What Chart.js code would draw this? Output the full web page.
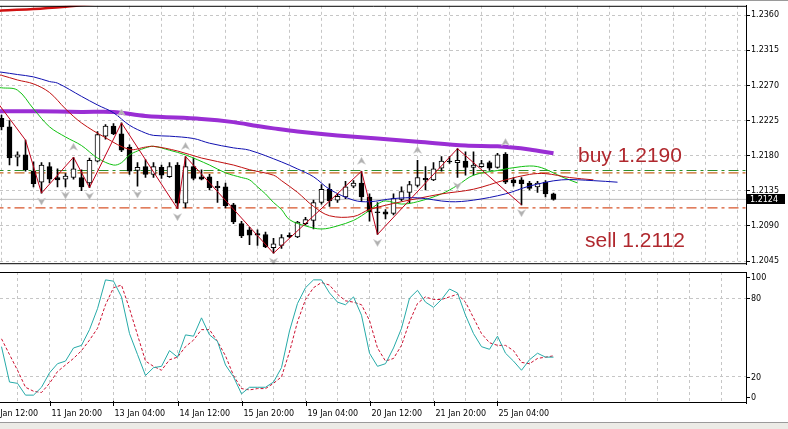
<!DOCTYPE html>
<html><head><meta charset="utf-8">
<script src="https://cdn.jsdelivr.net/npm/chart.js@4.4.0/dist/chart.umd.min.js"></script>
<style>
html,body{margin:0;padding:0;background:#fff;width:788px;height:429px;overflow:hidden;position:relative;}
#a{position:absolute;left:0;top:0;}
#b{position:absolute;left:0;top:269px;}
#topline{position:absolute;left:0;top:0;width:788px;height:1px;background:#9a9a9a;}
#bar{position:absolute;left:0;top:422px;width:788px;height:7px;background:#ecebe6;border-top:1px solid #9a9a9a;}
</style></head><body>
<canvas id="a" width="788" height="270" style="width:788px;height:270px"></canvas>
<canvas id="b" width="788" height="153" style="width:788px;height:153px"></canvas>
<div id="topline"></div><div id="bar"></div>
<script>
// ---- price candles (bar index 0..69, H4 bars) ----
const opens = [1.2228,1.2217,1.2178,1.2181,1.2160,1.2146,1.2166,1.2152,1.2150,1.2152,
1.2152,1.2145,1.2173,1.2205,1.2218,1.2208,1.2191,1.2161,1.2166,1.2156,
1.2165,1.2153,1.2168,1.2119,1.2166,1.2153,1.2153,1.2141,1.2140,1.2117,
1.2093,1.2085,1.2080,1.2079,1.2062,1.2065,1.2078,1.2076,1.2093,1.2097,
1.2120,1.2137,1.2123,1.2127,1.2141,1.2145,1.2127,1.2108,1.2108,1.2106,
1.2124,1.2133,1.2142,1.2151,1.2149,1.2164,1.2173,1.2171,1.2173,1.2165,
1.2166,1.2171,1.2165,1.2182,1.2149,1.2149,1.2145,1.2140,1.2146,1.2131];
const highs = [1.2232,1.2225,1.2185,1.2200,1.2172,1.2171,1.2171,1.2163,1.2157,1.2178,
1.2162,1.2177,1.2211,1.2220,1.2221,1.2222,1.2194,1.2171,1.2175,1.2171,
1.2168,1.2171,1.2171,1.2179,1.2177,1.2162,1.2156,1.2147,1.2145,1.2119,
1.2096,1.2088,1.2085,1.2082,1.2074,1.2079,1.2081,1.2096,1.2101,1.2123,
1.2143,1.2144,1.2131,1.2147,1.2148,1.2160,1.2131,1.2120,1.2111,1.2131,
1.2140,1.2147,1.2174,1.2166,1.2171,1.2179,1.2179,1.2189,1.2185,1.2185,
1.2174,1.2173,1.2183,1.2184,1.2152,1.2152,1.2147,1.2147,1.2148,1.2132];
const lows = [1.2213,1.2168,1.2167,1.2160,1.2140,1.2132,1.2145,1.2140,1.2140,1.2150,
1.2135,1.2139,1.2172,1.2201,1.2207,1.2185,1.2156,1.2141,1.2152,1.2152,
1.2151,1.2152,1.2112,1.2113,1.2149,1.2149,1.2136,1.2120,1.2113,1.2093,
1.2075,1.2066,1.2065,1.2062,1.2055,1.2061,1.2075,1.2075,1.2091,1.2086,
1.2118,1.2115,1.2120,1.2125,1.2139,1.2121,1.2096,1.2079,1.2099,1.2104,
1.2122,1.2119,1.2140,1.2136,1.2148,1.2160,1.2170,1.2152,1.2155,1.2155,
1.2165,1.2161,1.2164,1.2144,1.2141,1.2117,1.2136,1.2133,1.2127,1.2123];
const closes = [1.2217,1.2177,1.2181,1.2162,1.2144,1.2168,1.2150,1.2149,1.2154,1.2163,
1.2140,1.2174,1.2207,1.2218,1.2208,1.2187,1.2160,1.2165,1.2156,1.2166,
1.2155,1.2166,1.2119,1.2166,1.2151,1.2150,1.2139,1.2139,1.2116,1.2095,
1.2077,1.2078,1.2078,1.2063,1.2067,1.2075,1.2076,1.2095,1.2098,1.2120,
1.2137,1.2122,1.2128,1.2140,1.2145,1.2127,1.2108,1.2107,1.2105,1.2125,
1.2134,1.2143,1.2152,1.2149,1.2163,1.2173,1.2172,1.2174,1.2165,1.2168,
1.2170,1.2164,1.2181,1.2146,1.2145,1.2144,1.2138,1.2145,1.2131,1.2124];

// ---- indicator lines (bar index, value) ----
const jawIdx  = [-1,0,2,4,6,7,10,12,14,16,18,19,21,24,26,29,31,35,37,39,41,44,46,49,52,56,59,63,66,70,74,77];
const jawVal  = [1.2288,1.2287,1.2284,1.2281,1.2275,1.2273,1.2256,1.2245,1.2235,1.2219,1.2209,1.2206,1.2205,1.2202,1.2196,1.2190,1.2187,1.2172,1.2163,1.2153,1.2137,1.2123,1.2121,1.2125,1.2126,1.2121,1.2123,1.2131,1.2141,1.2149,1.2148,1.2146];
const teethIdx = [-1,0,2,4,6,8,10,13,16,18,19,22,25,29,31,34,35,37,39,41,44,46,50,52,55,59,63,66,68,71,74];
const teethVal = [1.2285,1.2283,1.2277,1.2272,1.2261,1.2240,1.2222,1.2203,1.2188,1.2191,1.2192,1.2186,1.2177,1.2168,1.2162,1.2155,1.2148,1.2133,1.2115,1.2103,1.2102,1.2111,1.2121,1.2125,1.2131,1.2137,1.2149,1.2156,1.2157,1.2152,1.2149];
const lipsIdx = [-1,0,2,4,6,8,10,12,14,15,16,17,18,19,21,23,26,28,30,31,32,33,34,35,36,38,40,42,44,45,46,47,48,50,52,55,57,59,62,65,67,69,70,72];
const lipsVal = [1.2268,1.2267,1.2264,1.2240,1.2217,1.2204,1.2193,1.2177,1.2168,1.2171,1.2181,1.2186,1.2190,1.2192,1.2187,1.2181,1.2168,1.2158,1.2152,1.2149,1.2140,1.2131,1.2120,1.2111,1.2098,1.2090,1.2086,1.2090,1.2097,1.2103,1.2110,1.2118,1.2122,1.2118,1.2121,1.2131,1.2142,1.2155,1.2161,1.2166,1.2166,1.2158,1.2153,1.2145];
const slowIdx = [-1,0,4,10,14,18,25,29,32,34,37,42,52,58,62,66,69];
const slowVal = [1.2237,1.2237,1.2237,1.2236,1.2236,1.2231,1.2227,1.2223,1.2218,1.2215,1.2211,1.2206,1.2198,1.2193,1.2192,1.2188,1.2183];
const slow2Idx = [-1,0,4,8,10,12];
const slow2Val = [1.2365,1.2366,1.2368,1.2371,1.2373,1.2375];
const zigzagIdx = [-1,3,5,9,11,15,22,23,34,45,47,57,65];
const zigzagVal = [1.2255,1.2200,1.2132,1.2178,1.2139,1.2222,1.2112,1.2179,1.2055,1.2160,1.2079,1.2189,1.2117];
const fractalUp = [9,15,23,45,52,63];
const fractalDown = [5,8,11,17,22,34,47,57,65];

// ---- horizontal levels ----
const buyLevelA = 1.2161;   // green dash-dot
const buyLevelB = 1.2158;   // orange dash-dot
const sellLevel = 1.2113;   // red dash-dot
const bidLevel = 1.2124;
const buyText = 'buy 1.2190';
const sellText = 'sell 1.2112';

// ---- stochastic ----
const stochMain = [43,16,15,6,6,12,23,30,32,42,44,56,72,94,93,81,53,37,21,27,28,40,35,52,51,65,52,47,29,20,7,12,12,12,16,27,55,76,88,94,94,84,77,75,81,67,38,28,30,42,57,80,86,77,73,79,87,84,67,53,43,41,51,38,32,25,33,38,35,35];
const stochSignal = [49,37,25,12,9,8,15,24,29,34,40,48,57,75,88,90,72,52,32,28,25,33,35,43,48,56,56,47,36,21,11,10,11,11,15,20,39,62,79,88,92,90,83,78,77,75,63,42,32,34,44,62,76,81,79,79,81,83,77,65,53,46,44,44,40,31,30,34,35,36];
const stochLevels = [100,80,20,0];
const stochGrid = [20,80];

// ---- axes ----
const priceTicks = [1.2045,1.2090,1.2135,1.2180,1.2225,1.2270,1.2315,1.2360];
const gridIdx = [2,6,10,14,18,22,26,30,34,38,42,46,50,54,58,62,66,70,74,78,82,86,90];
const timeLabelIdx = [-2,6,14,22,30,38,46,54,62];
const timeLabels = ['10 Jan 12:00','11 Jan 20:00','13 Jan 04:00','14 Jan 12:00','15 Jan 20:00','19 Jan 04:00','20 Jan 12:00','21 Jan 20:00','25 Jan 04:00'];

const pts = (idx, val) => idx.map((k, i) => ({x: k, y: val[i]}));
const FONT = "'DejaVu Sans', sans-serif";
const GRIDC = '#c6c6c6';

const xAxis = () => ({
  type: 'linear', min: -0.1875, max: 93.0625, offset: false, display: true,
  afterBuildTicks: s => { s.ticks = gridIdx.map(v => ({value: v})); },
  afterFit: s => { s.height = 0; },
  ticks: {display: false},
  grid: {display: true, color: GRIDC, lineWidth: 1, drawTicks: false, borderDash: [3,3]},
  border: {display: false, dash: [3,3]}
});

const framePlugin = {
  id: 'frame',
  afterDraw(chart) {
    const {ctx, chartArea: a} = chart;
    ctx.save();
    ctx.strokeStyle = '#000'; ctx.lineWidth = 1; ctx.setLineDash([]);
    ctx.beginPath();
    ctx.moveTo(0, a.top + 0.5); ctx.lineTo(a.right + 0.5, a.top + 0.5);
    ctx.moveTo(0, a.bottom - 0.5); ctx.lineTo(a.right + 0.5, a.bottom - 0.5);
    ctx.moveTo(a.right + 0.5, a.top); ctx.lineTo(a.right + 0.5, a.bottom);
    ctx.stroke();
    ctx.restore();
  }
};

const fractalPlugin = {
  id: 'fractals',
  afterDatasetsDraw(chart) {
    const {ctx, chartArea: a, scales: {x, y}} = chart;
    ctx.save();
    ctx.beginPath(); ctx.rect(a.left, a.top, a.right - a.left, a.bottom - a.top); ctx.clip();
    const draw = (px, py, up) => {
      const d = up ? -1 : 1;
      ctx.beginPath();
      ctx.moveTo(px, py + d * 4);
      ctx.lineTo(px + 4, py - d * 3);
      ctx.lineTo(px, py - d * 1);
      ctx.lineTo(px - 4, py - d * 3);
      ctx.closePath();
      ctx.fillStyle = '#b0b0b0'; ctx.fill();
      ctx.strokeStyle = '#cfcfcf'; ctx.lineWidth = 0.6; ctx.stroke();
    };
    fractalUp.forEach(k => draw(x.getPixelForValue(k), y.getPixelForValue(highs[k]) - 10, true));
    fractalDown.forEach(k => draw(x.getPixelForValue(k), y.getPixelForValue(lows[k]) + 8, false));
    ctx.restore();
  }
};

const annotPlugin = {
  id: 'annot',
  afterDraw(chart) {
    const {ctx, chartArea: a, scales: {y}} = chart;
    ctx.save();
    ctx.font = "21px 'Liberation Sans', Arial, sans-serif";
    ctx.fillStyle = '#b0282e';
    ctx.textBaseline = 'alphabetic';
    ctx.fillText(buyText, 578, 162);
    ctx.fillText(sellText, 585, 247);
    // current price box
    const py = Math.round(y.getPixelForValue(closes[closes.length - 1]));
    ctx.fillStyle = '#000';
    ctx.fillRect(a.right + 1, py - 5, 38, 10);
    ctx.fillStyle = '#fff';
    ctx.font = "8px " + FONT;
    ctx.textBaseline = 'middle';
    ctx.fillText(closes[closes.length - 1].toFixed(4), a.right + 4, py + 0.5);
    ctx.restore();
  }
};

const level = (p, color, dash, width) => ({
  type: 'line', data: [{x: -1, y: p}, {x: 100, y: p}], borderColor: color, borderWidth: width || 1,
  borderDash: dash, pointRadius: 0, order: 6, tension: 0
});
const maLine = (idx, val, color, width, order) => ({
  type: 'line', data: pts(idx, val), borderColor: color, borderWidth: width, pointRadius: 0,
  tension: 0.35, order: order, fill: false
});

new Chart(document.getElementById('a'), {
  type: 'bar',
  data: {
    datasets: [
      {type: 'line', data: pts(zigzagIdx, zigzagVal), borderColor: '#c0001a', borderWidth: 1, pointRadius: 0, tension: 0, order: 0},
      maLine(jawIdx, jawVal, '#1010b0', 1, 1),
      maLine(teethIdx, teethVal, '#c01010', 1, 1),
      maLine(lipsIdx, lipsVal, '#10c010', 1, 1),
      maLine(slowIdx, slowVal, '#9a2ed4', 4, 2),
      maLine(slow2Idx, slow2Val, '#d01010', 2.5, 2),
      {type: 'bar', data: opens.map((o, i) => ({x: i, y: [o, closes[i]]})),
        backgroundColor: c => closes[c.dataIndex] >= opens[c.dataIndex] ? '#ffffff' : '#000000',
        borderColor: '#000', borderWidth: 1, borderSkipped: false, barThickness: 5, grouped: false, order: 3},
      {type: 'bar', data: lows.map((l, i) => ({x: i, y: [l, highs[i]]})),
        backgroundColor: '#000', borderWidth: 0, barThickness: 1, grouped: false, order: 4},
      level(bidLevel, '#bdbdbd', [], 1),
      level(buyLevelA, '#2f8f2f', [10,4,3,4], 1.2),
      level(buyLevelB, '#c8641e', [10,4,3,4], 1.2),
      level(sellLevel, '#d8542a', [10,4,3,4], 1.2)
    ]
  },
  options: {
    responsive: false, animation: false, devicePixelRatio: 1,
    layout: {padding: {top: 4, left: 0, right: 0, bottom: 1}},
    plugins: {legend: {display: false}, tooltip: {enabled: false}},
    scales: {
      x: xAxis(),
      y: {
        type: 'linear', position: 'right', min: 1.20409, max: 1.23721,
        afterBuildTicks: s => { s.ticks = priceTicks.map(v => ({value: v})); },
        afterFit: s => { s.width = 42; },
        ticks: {callback: v => Number(v).toFixed(4), color: '#000', padding: 1, font: {family: FONT, size: 8}},
        grid: {color: GRIDC, lineWidth: 1, drawTicks: true, tickLength: 4, tickColor: '#000', borderDash: [3,3], tickBorderDash: []},
        border: {display: true, color: '#000', width: 1, dash: [3,3]}
      }
    }
  },
  plugins: [fractalPlugin, annotPlugin, framePlugin]
});

const stochLabelPlugin = {
  id: 'stochLabels',
  afterDraw(chart) {
    const {ctx, chartArea: a, scales: {x, y}} = chart;
    ctx.save();
    ctx.font = "8px " + FONT;
    ctx.fillStyle = '#000'; ctx.strokeStyle = '#000'; ctx.lineWidth = 1;
    ctx.textBaseline = 'middle';
    stochLevels.forEach(v => {
      let py = y.getPixelForValue(v);
      if (v === 100) py += 5;
      if (v === 0) py -= 6;
      py = Math.round(py) + 0.5;
      ctx.beginPath(); ctx.moveTo(a.right, py); ctx.lineTo(a.right + 4, py); ctx.stroke();
      ctx.fillText(String(v), a.right + 5, py);
    });
    // time axis
    ctx.textBaseline = 'alphabetic';
    timeLabelIdx.forEach((k, i) => {
      const px = Math.round(x.getPixelForValue(k)) + 0.5;
      ctx.beginPath(); ctx.moveTo(px, a.bottom - 2); ctx.lineTo(px, a.bottom + 3); ctx.stroke();
      ctx.fillText(timeLabels[i], px + 1, a.bottom + 13);
    });
    ctx.restore();
  }
};

new Chart(document.getElementById('b'), {
  type: 'line',
  data: {
    datasets: [
      {data: stochMain.map((v, i) => ({x: i, y: v})), borderColor: '#26aaa8', borderWidth: 1, pointRadius: 0, tension: 0},
      {data: stochSignal.map((v, i) => ({x: i, y: v})), borderColor: '#cc1030', borderWidth: 1, borderDash: [3,2], pointRadius: 0, tension: 0}
    ]
  },
  options: {
    responsive: false, animation: false, devicePixelRatio: 1,
    layout: {padding: {top: 3, left: 0, right: 0, bottom: 19}},
    plugins: {legend: {display: false}, tooltip: {enabled: false}},
    scales: {
      x: xAxis(),
      y: {
        type: 'linear', position: 'right', min: 0, max: 100,
        afterBuildTicks: s => { s.ticks = stochGrid.map(v => ({value: v})); },
        afterFit: s => { s.width = 42; },
        ticks: {display: false},
        grid: {color: GRIDC, lineWidth: 1, drawTicks: false, borderDash: [3,3]},
        border: {display: true, color: '#000', width: 1, dash: [3,3]}
      }
    }
  },
  plugins: [stochLabelPlugin, framePlugin]
});
</script>
</body></html>
